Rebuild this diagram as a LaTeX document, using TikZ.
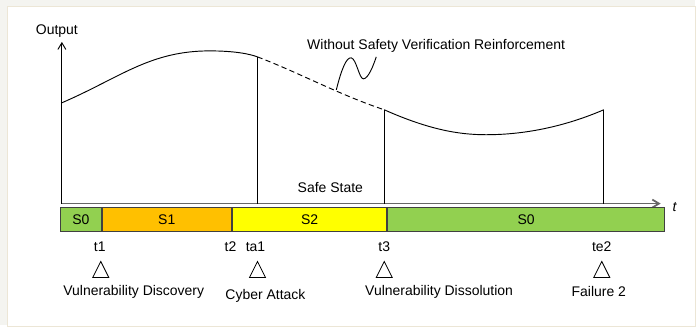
\documentclass[tikz,border=0pt]{standalone}
\usepackage{fontspec}
\setmainfont{Liberation Sans}
\usetikzlibrary{arrows.meta}
\definecolor{stzero}{HTML}{92D050}
\definecolor{stone}{HTML}{FFC000}
\definecolor{sttwo}{HTML}{FFFF00}
\definecolor{barline}{HTML}{404040}
\definecolor{pagebg}{HTML}{F4F4F0}
\definecolor{frameline}{HTML}{ECE6D6}
\newcommand{\lblfont}{\fontsize{10.5}{12}\selectfont}
\begin{document}
\begin{tikzpicture}[x=0.75pt,y=-0.75pt,
  lbl/.style={font=\lblfont, inner sep=0pt},
  seg/.style={draw=barline, line width=0.8pt, minimum height=24*0.75pt, inner sep=0pt, anchor=west, font=\lblfont},
  curve/.style={line width=0.7pt},
  openarrow/.style={-{Straight Barb[length=5pt,width=6pt]}}]
  % page background and frame
  \fill[pagebg] (0,0) rectangle (696,326);
  \filldraw[fill=white, draw=frameline, line width=0.6pt] (7,6) rectangle (697,327);
  \useasboundingbox (0,0) rectangle (696,326);

  % axes
  \coordinate (origin) at (62,204);
  \coordinate (ytop) at (62,42);
  \coordinate (xend) at (662,204);
  \draw[gray!80!black, line width=1.3pt, openarrow] (origin) -- (xend);
  \draw[line width=0.7pt, openarrow] (origin) -- (ytop);
  \node[lbl] (ylab) at (57,31) {Output};
  \node[lbl, font=\lblfont\itshape] (xlab) at (676,207) {t};

  % output curve with verification
  \coordinate (c0) at (62,103);
  \coordinate (c1) at (258,57);
  \coordinate (c2) at (385,110);
  \coordinate (c3) at (605,110);
  \draw[curve] (c0) .. controls (120,78) and (150,51) .. (210,51)
                    .. controls (235,51) and (250,54) .. (c1);
  \draw[curve, dashed, dash pattern=on 4pt off 2.5pt] (c1) .. controls (300,73) and (340,95) .. (c2);
  \draw[curve] (c2) .. controls (430,130) and (460,135) .. (487,135)
                    .. controls (530,135) and (570,125) .. (c3);
  % drops to the safe state
  \draw[line width=0.7pt] (c1) -- (c1 |- origin);
  \draw[line width=0.7pt] (c2) -- (c2 |- origin);
  \draw[line width=0.7pt] (c3) -- (c3 |- origin);
  \node[lbl] (safe) at (331,188) {Safe State};

  % callout for the dashed branch
  \node[lbl] (without) at (437,46) {Without Safety Verification Reinforcement};
  \draw[line width=0.7pt] (337,90) .. controls (342,70) and (347,57) .. (352,58)
        .. controls (357,59) and (360,79) .. (364,79)
        .. controls (369,79) and (374,66) .. (377,57);

  % state bar
  \node[seg, fill=stzero, minimum width=41*0.75pt] (s0a) at (60,220) {S0};
  \node[seg, fill=stone, minimum width=129*0.75pt] (s1) at (s0a.east) {S1};
  \node[seg, fill=sttwo, minimum width=155*0.75pt] (s2) at (s1.east) {S2};
  \node[seg, fill=stzero, minimum width=277*0.75pt] (s0b) at (s2.east) {S0};

  % time marks
  \node[lbl] (t1) at (100,247) {t1};
  \node[lbl] (t2) at (231,247) {t2};
  \node[lbl] (ta1) at (256,247) {ta1};
  \node[lbl] (t3) at (385,247) {t3};
  \node[lbl] (te2) at (603,247) {te2};

  % event triangles
  \foreach \n/\x in {m1/101, m2/258, m3/385, m4/603}{
    \draw[line width=0.6pt] (\x-8,278) -- (\x,262) -- (\x+8,278) -- cycle;
    \coordinate (\n) at (\x,278);
  }
  \node[lbl] (e1) at (134,292) {Vulnerability Discovery};
  \node[lbl] (e2) at (266,296) {Cyber Attack};
  \node[lbl] (e3) at (440,292) {Vulnerability Dissolution};
  \node[lbl] (e4) at (600,292) {Failure 2};
\end{tikzpicture}
\end{document}
